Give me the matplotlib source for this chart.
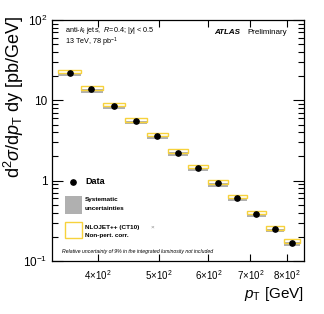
import numpy as np
import matplotlib
matplotlib.use("Agg")
import matplotlib.pyplot as plt
from matplotlib.ticker import FixedLocator, NullLocator, FixedFormatter

plt.rcParams['font.family'] = ['Liberation Sans', 'DejaVu Sans']
plt.rcParams['mathtext.fontset'] = 'custom'
plt.rcParams['mathtext.rm'] = 'Liberation Sans'
plt.rcParams['mathtext.it'] = 'Liberation Sans:italic'
plt.rcParams['mathtext.bf'] = 'Liberation Sans:bold'

# ==========================================
# Data
# ==========================================

bin_edges = [345.6, 376, 407.4, 441.7, 478.6, 516.9, 556.4,
             598.4, 643.9, 690.3, 740.0, 790.6, 841.2]

pt_centers = [361, 391, 424, 460, 497, 536, 577, 621, 666, 714, 765, 814]

xsec = [21.9, 13.7, 8.5, 5.5, 3.59, 2.23, 1.44, 0.925, 0.607, 0.384, 0.249, 0.169]

syst_lo = [0.91] * 12
syst_hi = [1.01] * 12
theo_lo = [0.99] * 12
theo_hi = [1.10] * 12

x_ticks = [400, 500, 600, 700, 800]
x_tick_labels = [r"4$\times$10$^{2}$", r"5$\times$10$^{2}$", r"6$\times$10$^{2}$",
                 r"7$\times$10$^{2}$", r"8$\times$10$^{2}$"]

# ==========================================
# Figure
# ==========================================

W, H = 324, 314
fig = plt.figure(figsize=(W / 100, H / 100), dpi=100)

ax_l, ax_r, ax_t, ax_b = 51.7, 304.3, 20, 261
ax = fig.add_axes([ax_l / W, 1 - ax_b / H, (ax_r - ax_l) / W, (ax_b - ax_t) / H])


def apos(px, py):
    return (px - ax_l) / (ax_r - ax_l), (ax_b - py) / (ax_b - ax_t)


edges = np.array(bin_edges)
left = edges[:-1]
width = np.diff(edges)
y = np.array(xsec)

gray = "#b0b0b0"
yellow = "#f7d23c"

ax.bar(left, y * (np.array(syst_hi) - np.array(syst_lo)), width=width,
       bottom=y * np.array(syst_lo), align='edge', color=gray, lw=0, zorder=1)
ax.bar(left, y * (np.array(theo_hi) - np.array(theo_lo)), width=width,
       bottom=y * np.array(theo_lo), align='edge', fill=False,
       edgecolor=yellow, lw=1.0, zorder=2)
ax.plot(pt_centers, xsec, 'o', color='black', ms=3.8, zorder=3)

ax.set_xscale('log')
ax.set_yscale('log')
ax.set_xlim(338, 853)
ax.set_ylim(0.1, 100)

ax.xaxis.set_major_locator(FixedLocator(x_ticks))
ax.xaxis.set_major_formatter(FixedFormatter(x_tick_labels))
ax.xaxis.set_minor_locator(NullLocator())
ax.set_yticks([0.1, 1, 10, 100])
ax.set_yticklabels([r"10$^{-1}$", "1", "10", r"10$^{2}$"])

ax.tick_params(which='both', direction='in', top=True, right=True, width=0.8)
ax.tick_params(axis='y', which='major', length=8, labelsize=8.5, pad=3)
ax.tick_params(axis='y', which='minor', length=4)
ax.tick_params(axis='x', which='major', length=5, labelsize=7, pad=5)
for s in ax.spines.values():
    s.set_linewidth(0.9)

ax.set_xlabel(r"$p_{\rm T}$ [GeV]", fontsize=11, loc='right', labelpad=2)
ax.set_ylabel(r"d$^{2}\sigma$/d$p_{\rm T}$ dy [pb/GeV]", fontsize=13)
ax.yaxis.label.set_horizontalalignment('right')
ax.yaxis.set_label_coords((26 - ax_l) / (ax_r - ax_l), (ax_b - 15) / (ax_b - ax_t))

# ==========================================
# Annotations
# ==========================================

ax.text(*apos(65, 30), r"anti-$k_{t}$ jets,  $R$=0.4; |$y$| < 0.5",
        transform=ax.transAxes, fontsize=5.2, va='center')
ax.text(*apos(65, 42), r"13 TeV, 78 pb$^{-1}$",
        transform=ax.transAxes, fontsize=5.2, va='center')
ax.text(*apos(214, 32), "ATLAS", transform=ax.transAxes, fontsize=5.8,
        fontweight='bold', style='italic', va='center')
ax.text(*apos(247, 32), "Preliminary", transform=ax.transAxes, fontsize=5.8,
        va='center')

# legend drawn by hand
ax.plot(*apos(73, 182), 'o', color='black', ms=3.8, transform=ax.transAxes,
        clip_on=False)
ax.text(*apos(85, 182), "Data", transform=ax.transAxes, fontsize=6.5,
        fontweight='bold', va='center')

gx, gy = apos(65, 214)
gx2, gy2 = apos(82, 196)
ax.add_patch(plt.Rectangle((gx, gy), gx2 - gx, gy2 - gy, transform=ax.transAxes,
                           color=gray, lw=0))
ax.text(*apos(85, 200), "Systematic", transform=ax.transAxes, fontsize=4.6,
        fontweight='bold', va='center')
ax.text(*apos(85, 209), "uncertainties", transform=ax.transAxes, fontsize=4.6,
        fontweight='bold', va='center')

yx, yy = apos(65, 238)
yx2, yy2 = apos(82, 222)
ax.add_patch(plt.Rectangle((yx, yy), yx2 - yx, yy2 - yy, transform=ax.transAxes,
                           fill=False, edgecolor=yellow, lw=1.0))
ax.text(*apos(85, 227), "NLOJET++ (CT10)", transform=ax.transAxes, fontsize=4.6,
        fontweight='bold', va='center')
ax.text(*apos(150, 227), r"$\times$", transform=ax.transAxes, fontsize=4.6,
        color='#888888', va='center')
ax.text(*apos(85, 236), "Non-pert. corr.", transform=ax.transAxes, fontsize=4.6,
        fontweight='bold', va='center')

ax.text(*apos(62, 251),
        "Relative uncertainty of 9% in the integrated luminosity not included",
        transform=ax.transAxes, fontsize=3.7, style='italic', va='center')

fig.savefig("out.png", dpi=100)
